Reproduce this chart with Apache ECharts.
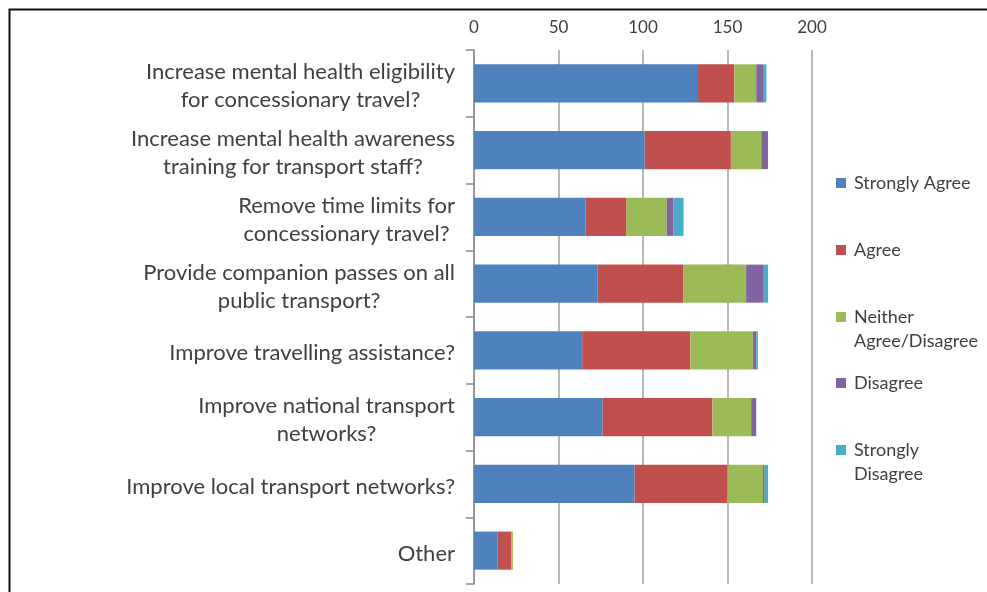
<!DOCTYPE html>
<html>
<head>
<meta charset="utf-8">
<script src="https://cdn.jsdelivr.net/npm/echarts@6/dist/echarts.min.js"></script>
<style>
html,body{margin:0;padding:0;background:#fff;}
#chart{width:987px;height:592px;}
</style>
</head>
<body>
<div id="chart"></div>
<script>
const categories = [
  "Increase mental health eligibility\nfor concessionary travel?",
  "Increase mental health awareness\ntraining for transport staff?",
  "Remove time limits for\nconcessionary travel?",
  "Provide companion passes on all\npublic transport?",
  "Improve travelling assistance?",
  "Improve national transport\nnetworks?",
  "Improve local transport networks?",
  "Other"
];
const seriesNames = ["Strongly Agree", "Agree", "Neither Agree/Disagree", "Disagree", "Strongly Disagree"];
const stronglyAgree    = [132, 101, 66, 73, 64, 76, 95, 14];
const agree            = [22, 51, 24, 51, 64, 65, 55, 8];
const neither          = [13, 18, 24, 37, 37, 23, 21, 1];
const disagree         = [4, 4, 4, 10, 2, 3, 1, 0];
const stronglyDisagree = [2, 0, 6, 3, 1, 0, 2, 0];
const xTicks = { min: 0, max: 200, interval: 50 };

const colors = ["#4F81BD", "#C0504D", "#9BBB59", "#8064A2", "#4BACC6"];
const values = [stronglyAgree, agree, neither, disagree, stronglyDisagree];
const legendLabels = {
  "Strongly Agree": "Strongly Agree",
  "Agree": "Agree",
  "Neither Agree/Disagree": "\nNeither\nAgree/Disagree",
  "Disagree": "Disagree",
  "Strongly Disagree": "\nStrongly\nDisagree"
};
const legendCenters = [183, 250, 317, 383, 450];
const FONT = "Lato";
const TXT = "#404040";

const chart = echarts.init(document.getElementById('chart'), null, {renderer: 'canvas'});

const legends = seriesNames.map((n, i) => {
  const multi = legendLabels[n].indexOf('\n') >= 0;
  return {
    data: [n],
    orient: 'vertical',
    left: 836,
    top: legendCenters[i] - (multi ? 36 : 12),
    itemWidth: 10,
    itemHeight: 10,
    icon: 'rect',
    selectedMode: false,
    padding: 0,
    formatter: name => legendLabels[name],
    textStyle: {fontFamily: FONT, fontSize: 18, color: TXT, lineHeight: 24, padding: [0, 0, 0, 3]}
  };
});

chart.setOption({
  animation: false,
  color: colors,
  textStyle: {fontFamily: FONT},
  grid: {left: 474, right: 175, top: 50, bottom: 8, containLabel: false},
  legend: legends,
  graphic: [{
    type: 'rect',
    x: 0, y: 0,
    shape: {x: 9.5, y: 9.5, width: 1000, height: 600},
    style: {fill: 'none', stroke: '#111', lineWidth: 2},
    silent: true, z: 100
  }],
  xAxis: {
    type: 'value',
    position: 'top',
    min: xTicks.min, max: xTicks.max, interval: xTicks.interval,
    axisLine: {show: false},
    axisTick: {show: false},
    axisLabel: {fontFamily: FONT, fontSize: 17, color: TXT, margin: 14},
    splitLine: {show: true, lineStyle: {color: '#A0A0A0', width: 1.5}}
  },
  yAxis: {
    type: 'category',
    inverse: true,
    data: categories,
    axisLine: {show: true, lineStyle: {color: '#8C8C8C', width: 1.5}},
    axisTick: {show: true, length: 8, lineStyle: {color: '#8C8C8C', width: 1.5}},
    axisLabel: {
      margin: 19,
      align: 'right',
      padding: [6, 0, 0, 0],
      formatter: v => v.split('\n').map(l => '{c|' + l + '}').join('\n'),
      rich: {c: {align: 'center', fontFamily: FONT, fontSize: 22, lineHeight: 28, color: TXT}}
    }
  },
  series: seriesNames.map((n, i) => ({
    name: n,
    type: 'bar',
    stack: 'total',
    barCategoryGap: '43%',
    data: values[i],
    itemStyle: {color: colors[i]}
  }))
});
</script>
</body>
</html>
